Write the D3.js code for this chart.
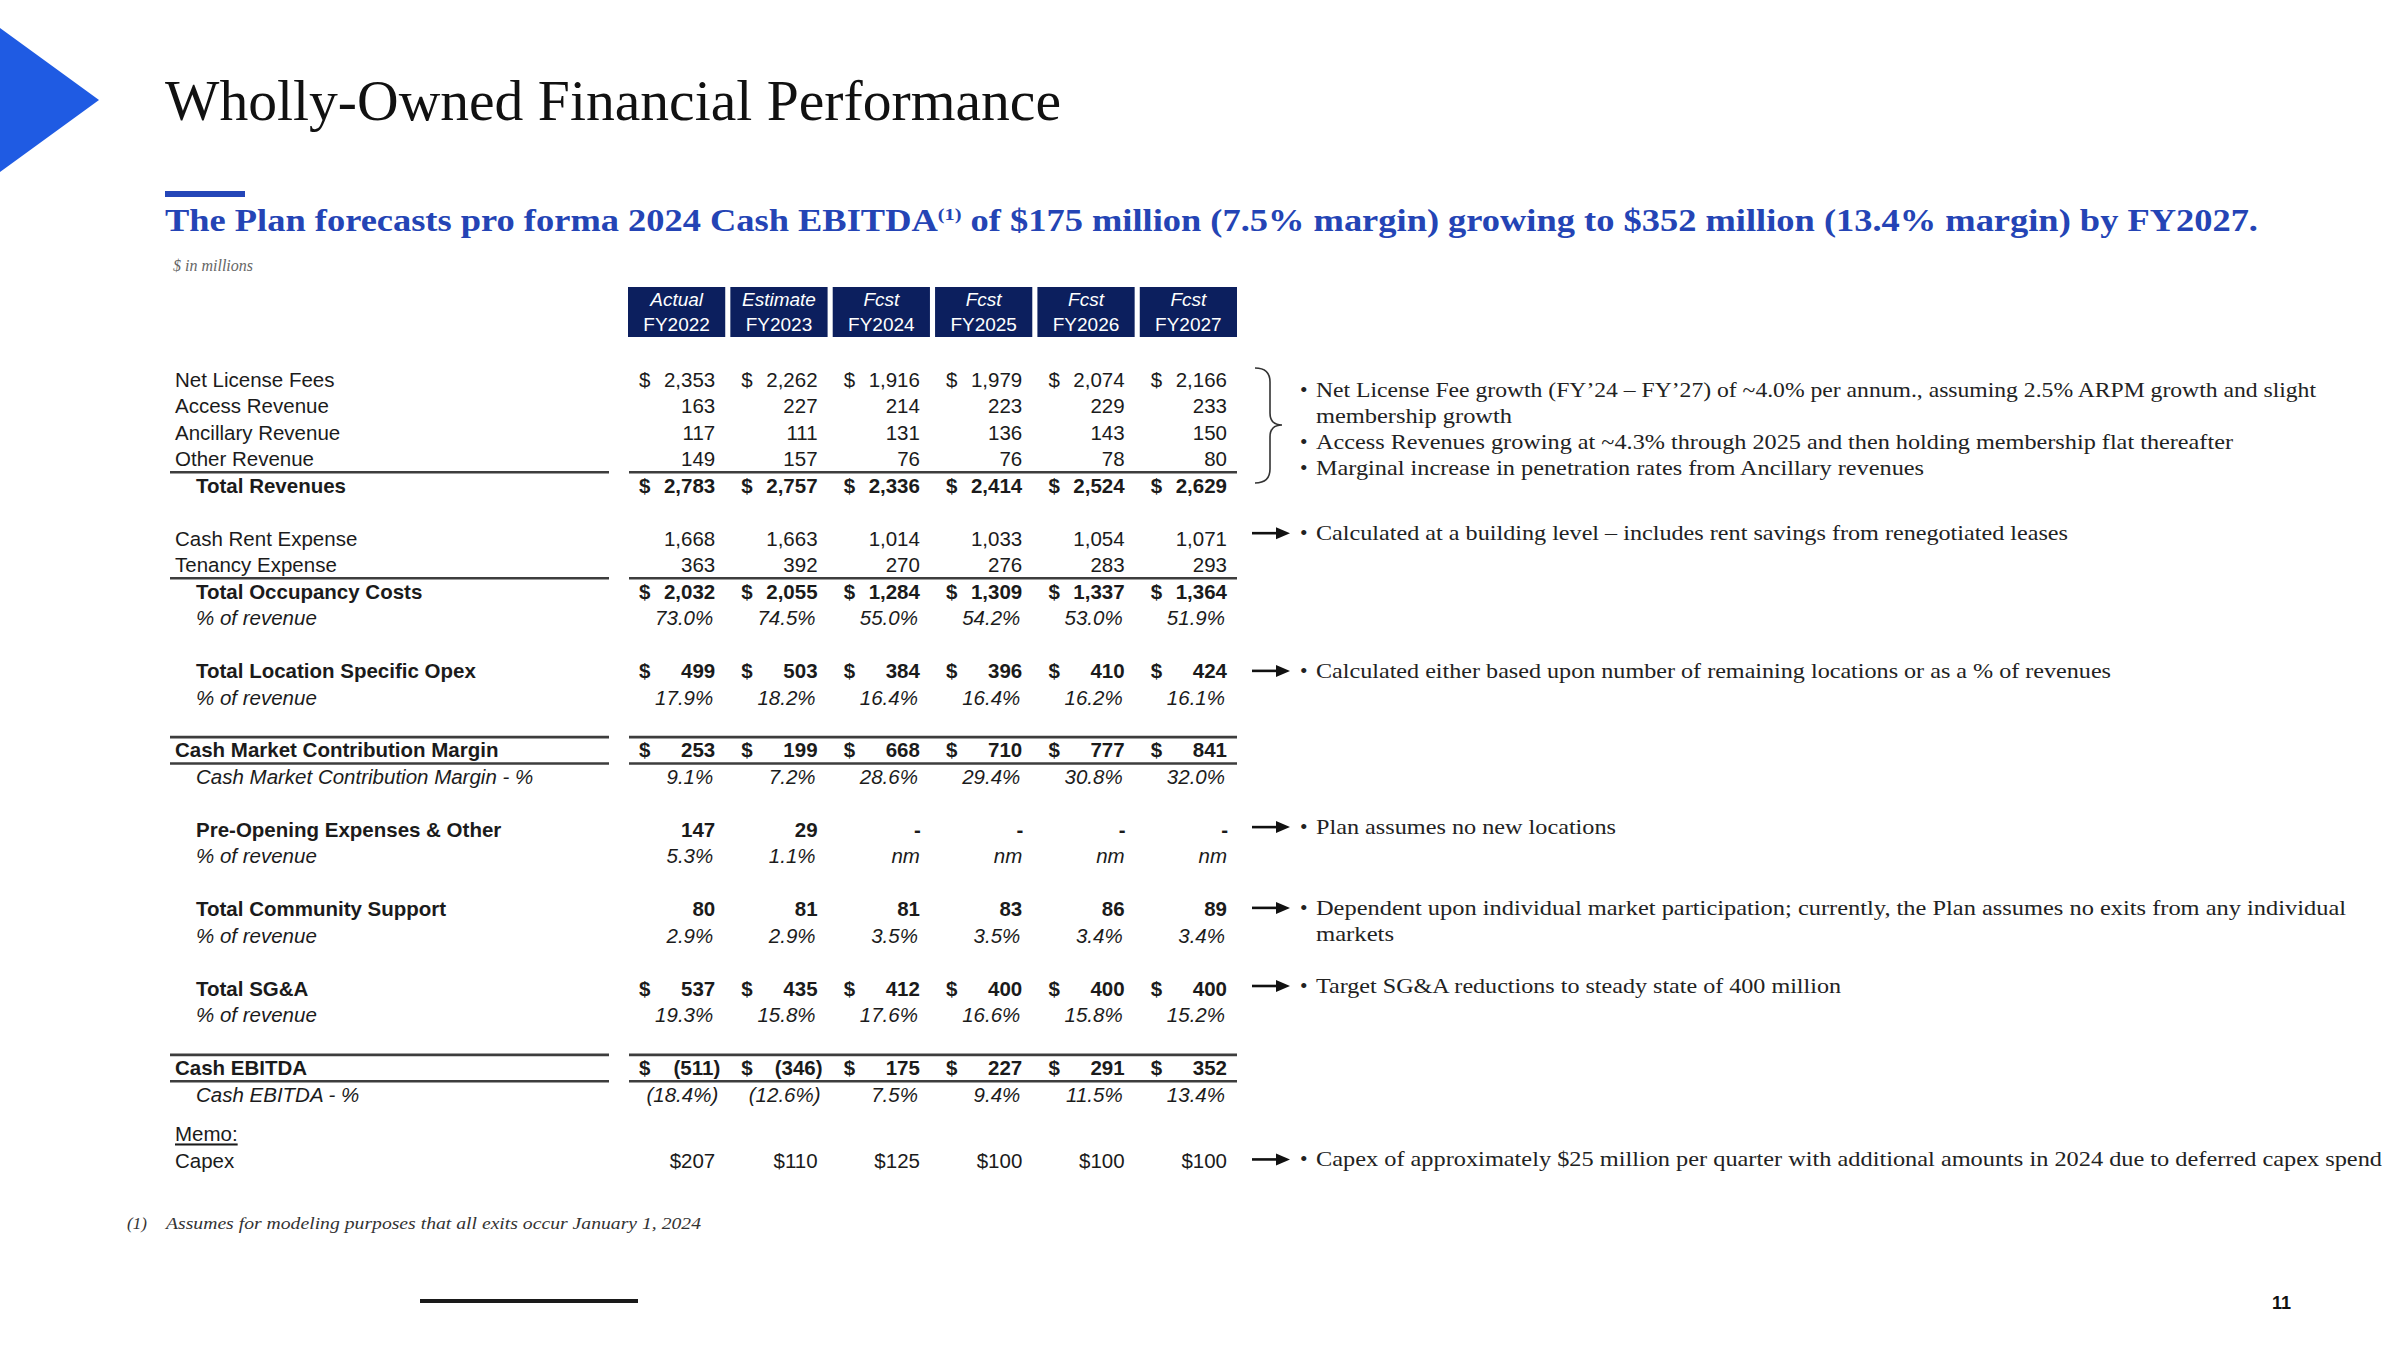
<!DOCTYPE html>
<html><head><meta charset="utf-8">
<script src="https://cdn.jsdelivr.net/npm/d3@7"></script>
<style>
html,body{margin:0;padding:0;background:#fff;}
svg{display:block;}
</style></head><body>
<svg id="chart" width="2400" height="1350"></svg>
<script>
// ---------------- DATA ----------------
const years = ["FY2022","FY2023","FY2024","FY2025","FY2026","FY2027"];
const periodTypes = ["Actual","Estimate","Fcst","Fcst","Fcst","Fcst"];

const netLicenseFees   = [2353, 2262, 1916, 1979, 2074, 2166];
const accessRevenue    = [163, 227, 214, 223, 229, 233];
const ancillaryRevenue = [117, 111, 131, 136, 143, 150];
const otherRevenue     = [149, 157, 76, 76, 78, 80];
const totalRevenues    = [2783, 2757, 2336, 2414, 2524, 2629];

const cashRentExpense  = [1668, 1663, 1014, 1033, 1054, 1071];
const tenancyExpense   = [363, 392, 270, 276, 283, 293];
const totalOccupancy   = [2032, 2055, 1284, 1309, 1337, 1364];
const occupancyPct     = [73.0, 74.5, 55.0, 54.2, 53.0, 51.9];

const locationOpex     = [499, 503, 384, 396, 410, 424];
const locationOpexPct  = [17.9, 18.2, 16.4, 16.4, 16.2, 16.1];

const contributionMargin    = [253, 199, 668, 710, 777, 841];
const contributionMarginPct = [9.1, 7.2, 28.6, 29.4, 30.8, 32.0];

const preOpening       = [147, 29, 0, 0, 0, 0];
const preOpeningPct    = [5.3, 1.1, null, null, null, null];

const communitySupport    = [80, 81, 81, 83, 86, 89];
const communitySupportPct = [2.9, 2.9, 3.5, 3.5, 3.4, 3.4];

const sga    = [537, 435, 412, 400, 400, 400];
const sgaPct = [19.3, 15.8, 17.6, 16.6, 15.8, 15.2];

const cashEbitda    = [-511, -346, 175, 227, 291, 352];
const cashEbitdaPct = [-18.4, -12.6, 7.5, 9.4, 11.5, 13.4];

const capex = [207, 110, 125, 100, 100, 100];

const braceNotes = [
  "Net License Fee growth (FY\u201924 \u2013 FY\u201927) of ~4.0% per annum., assuming 2.5% ARPM growth and slight",
  "membership growth",
  "Access Revenues growing at ~4.3% through 2025 and then holding membership flat thereafter",
  "Marginal increase in penetration rates from Ancillary revenues"
];
const arrowNotes = [
  ["Calculated at a building level \u2013 includes rent savings from renegotiated leases"],
  ["Calculated either based upon number of remaining locations or as a % of revenues"],
  ["Plan assumes no new locations"],
  ["Dependent upon individual market participation; currently, the Plan assumes no exits from any individual", "markets"],
  ["Target SG&A reductions to steady state of 400 million"],
  ["Capex of approximately $25 million per quarter with additional amounts in 2024 due to deferred capex spend"]
];

// ---------------- LAYOUT ----------------
const svg = d3.select("#chart");
const SANS = "'Liberation Sans', Arial, sans-serif";
const SERIF = "'Liberation Serif', 'Times New Roman', serif";
const INK = "#1b1b1b";

const x = d3.scaleBand().domain(years).range([628, 1237]).paddingInner(0.05).paddingOuter(0);
const bw = x.bandwidth();
const y = d3.scaleLinear().domain([0, 29.5]).range([379.6, 379.6 + 29.5 * 26.48]);

// decorative triangle
svg.append("path").attr("d", "M0,28 L99,100 L0,172 Z").attr("fill", "#1f5be3");

// title
svg.append("text").attr("x", 165).attr("y", 120)
  .attr("font-family", SERIF).attr("font-size", 57).attr("fill", "#111")
  .attr("textLength", 896).attr("lengthAdjust", "spacingAndGlyphs")
  .text("Wholly-Owned Financial Performance");

svg.append("rect").attr("x", 165).attr("y", 191).attr("width", 80).attr("height", 6).attr("fill", "#2446b8");

const sub = svg.append("text").attr("x", 165).attr("y", 231)
  .attr("font-family", SERIF).attr("font-size", 30.5).attr("font-weight", "bold").attr("fill", "#2444b5")
  .attr("textLength", 2093).attr("lengthAdjust", "spacingAndGlyphs");
sub.append("tspan").text("The Plan forecasts pro forma 2024 Cash EBITDA");
sub.append("tspan").attr("font-size", 17).attr("dy", -11).text("(1)");
sub.append("tspan").attr("dy", 11).text(" of $175 million (7.5% margin) growing to $352 million (13.4% margin) by FY2027.");

svg.append("text").attr("x", 173).attr("y", 271)
  .attr("font-family", SERIF).attr("font-style", "italic").attr("font-size", 16).attr("fill", "#666")
  .text("$ in millions");

// header boxes
const hdr = svg.append("g").selectAll("g").data(years).join("g");
hdr.append("rect").attr("x", d => x(d)).attr("y", 287).attr("width", bw).attr("height", 50).attr("fill", "#0c1f5e");
hdr.append("text").attr("x", d => x(d) + bw / 2).attr("y", 306)
  .attr("text-anchor", "middle").attr("font-family", SANS).attr("font-style", "italic")
  .attr("font-size", 19).attr("fill", "#fff").text((d, i) => periodTypes[i]);
hdr.append("text").attr("x", d => x(d) + bw / 2).attr("y", 331)
  .attr("text-anchor", "middle").attr("font-family", SANS)
  .attr("font-size", 19).attr("fill", "#fff").text(d => d);

// rows
const rows = [
  {label: "Net License Fees", values: netLicenseFees, kind: "num", dollar: true, slot: 0},
  {label: "Access Revenue", values: accessRevenue, kind: "num", slot: 1},
  {label: "Ancillary Revenue", values: ancillaryRevenue, kind: "num", slot: 2},
  {label: "Other Revenue", values: otherRevenue, kind: "num", slot: 3},
  {label: "Total Revenues", values: totalRevenues, kind: "num", dollar: true, bold: true, indent: true, slot: 4},
  {label: "Cash Rent Expense", values: cashRentExpense, kind: "num", slot: 6},
  {label: "Tenancy Expense", values: tenancyExpense, kind: "num", slot: 7},
  {label: "Total Occupancy Costs", values: totalOccupancy, kind: "num", dollar: true, bold: true, indent: true, slot: 8},
  {label: "% of revenue", values: occupancyPct, kind: "pct", italic: true, indent: true, slot: 9},
  {label: "Total Location Specific Opex", values: locationOpex, kind: "num", dollar: true, bold: true, indent: true, slot: 11},
  {label: "% of revenue", values: locationOpexPct, kind: "pct", italic: true, indent: true, slot: 12},
  {label: "Cash Market Contribution Margin", values: contributionMargin, kind: "num", dollar: true, bold: true, slot: 14},
  {label: "Cash Market Contribution Margin - %", values: contributionMarginPct, kind: "pct", italic: true, indent: true, slot: 15},
  {label: "Pre-Opening Expenses & Other", values: preOpening, kind: "num", bold: true, indent: true, slot: 17},
  {label: "% of revenue", values: preOpeningPct, kind: "pct", italic: true, indent: true, slot: 18},
  {label: "Total Community Support", values: communitySupport, kind: "num", bold: true, indent: true, slot: 20},
  {label: "% of revenue", values: communitySupportPct, kind: "pct", italic: true, indent: true, slot: 21},
  {label: "Total SG&A", values: sga, kind: "num", dollar: true, bold: true, indent: true, slot: 23},
  {label: "% of revenue", values: sgaPct, kind: "pct", italic: true, indent: true, slot: 24},
  {label: "Cash EBITDA", values: cashEbitda, kind: "num", dollar: true, bold: true, slot: 26},
  {label: "Cash EBITDA - %", values: cashEbitdaPct, kind: "pct", italic: true, indent: true, slot: 27},
  {label: "Memo:", values: null, underline: true, slot: 28.5},
  {label: "Capex", values: capex, kind: "capex", slot: 29.5}
];

const FS = 20.5;
const base = s => y(s) + FS * 0.35;
const fmtN = d3.format(",");
const fmtP = d3.format(".1f");

const rowG = svg.append("g").selectAll("g").data(rows).join("g");
rowG.append("text")
  .attr("x", d => d.indent ? 196 : 175).attr("y", d => base(d.slot))
  .attr("font-family", SANS).attr("font-size", FS).attr("fill", INK)
  .attr("font-weight", d => d.bold ? "bold" : "normal")
  .attr("font-style", d => d.italic ? "italic" : "normal")
  .attr("text-decoration", d => d.underline ? "underline" : null)
  .text(d => d.label);

rows.filter(r => r.values).forEach(r => {
  const g = svg.append("g").attr("font-family", SANS).attr("font-size", FS).attr("fill", INK)
    .attr("font-weight", r.bold ? "bold" : "normal").attr("font-style", r.italic ? "italic" : "normal");
  const cells = r.values.map((v, i) => ({v, yr: years[i]}));
  if (r.dollar) {
    g.selectAll("text.d").data(cells).join("text").attr("class", "d")
      .attr("x", d => x(d.yr) + 11).attr("y", base(r.slot)).text("$");
  }
  g.selectAll("text.v").data(cells).join("text").attr("class", "v")
    .attr("text-anchor", "end").attr("y", base(r.slot))
    .attr("x", d => {
      const right = x(d.yr) + bw - 10;
      if (r.kind === "num") return d.v < 0 ? right + 5 : (d.v === 0 ? right + 1 : right);
      if (r.kind === "pct") return d.v == null ? right : (d.v < 0 ? right + 3 : right - 2);
      return right;
    })
    .text(d => {
      if (r.kind === "num") return d.v === 0 ? "-" : (d.v < 0 ? "(" + fmtN(-d.v) + ")" : fmtN(d.v));
      if (r.kind === "pct") return d.v == null ? "nm" : (d.v < 0 ? "(" + fmtP(-d.v) + "%)" : fmtP(d.v) + "%");
      return "$" + fmtN(d.v);
    });
});

// rules
const ruleSlots = [3.5, 7.5, 13.5, 14.5, 25.5, 26.5];
const rules = svg.append("g").attr("stroke", "#3d3d3d").attr("stroke-width", 2.6);
ruleSlots.forEach(s => {
  rules.append("line").attr("x1", 170).attr("x2", 609).attr("y1", y(s)).attr("y2", y(s));
  rules.append("line").attr("x1", 629).attr("x2", 1237).attr("y1", y(s)).attr("y2", y(s));
});

// notes
const NFS = 21.5;
const noteG = svg.append("g").attr("font-family", SERIF).attr("font-size", NFS).attr("fill", "#222");
const noteEnds = {
  "Net License Fee": 2316, "membership growth": 1512, "Access Revenues": 2233, "Marginal": 1924,
  "Calculated at": 2068, "Calculated either": 2111, "Plan assumes": 1616,
  "Dependent": 2346, "markets": 1394, "Target": 1841, "Capex of": 2382
};
function endFor(t) { for (const k in noteEnds) if (t.startsWith(k)) return noteEnds[k]; return null; }
function noteLine(t, yy, bullet) {
  if (bullet) noteG.append("text").attr("x", 1300).attr("y", yy).text("\u2022");
  const e = endFor(t);
  const el = noteG.append("text").attr("x", 1316).attr("y", yy).text(t);
  if (e) el.attr("textLength", e - 1316).attr("lengthAdjust", "spacingAndGlyphs");
}
const LH = 26.2;
const braceBase = [0.4, 1.39, 2.37, 3.35];
braceNotes.forEach((t, i) => noteLine(t, y(braceBase[i]) + 7, i !== 1));

// brace
const by0 = 368, by1 = 483, bym = 425;
svg.append("path").attr("fill", "none").attr("stroke", "#333").attr("stroke-width", 1.6)
  .attr("d", `M1255,${by0} Q1270,${by0} 1270,${by0+14} L1270,${bym-12} Q1270,${bym} 1282,${bym} Q1270,${bym} 1270,${bym+12} L1270,${by1-14} Q1270,${by1} 1255,${by1}`);

const arrowSlots = [5.8, 11, 16.9, 19.95, 22.9, 29.45];
arrowNotes.forEach((lines, i) => {
  const yc = y(arrowSlots[i]);
  svg.append("line").attr("x1", 1252).attr("x2", 1279).attr("y1", yc).attr("y2", yc)
    .attr("stroke", "#111").attr("stroke-width", 2.6);
  svg.append("path").attr("d", `M1276,${yc-6} L1290,${yc} L1276,${yc+6} Z`).attr("fill", "#111");
  lines.forEach((t, j) => noteLine(t, yc + 7 + j * LH, j === 0));
});

// footnote
svg.append("text").attr("x", 127).attr("y", 1229)
  .attr("font-family", SERIF).attr("font-style", "italic").attr("font-size", 17).attr("fill", "#333").text("(1)");
svg.append("text").attr("x", 166).attr("y", 1229)
  .attr("font-family", SERIF).attr("font-style", "italic").attr("font-size", 17).attr("fill", "#333")
  .attr("textLength", 535).attr("lengthAdjust", "spacingAndGlyphs")
  .text("Assumes for modeling purposes that all exits occur January 1, 2024");

svg.append("rect").attr("x", 420).attr("y", 1299).attr("width", 218).attr("height", 4).attr("fill", "#1a1a1a");
svg.append("text").attr("x", 2272).attr("y", 1309)
  .attr("font-family", SANS).attr("font-weight", "bold").attr("font-size", 18).attr("fill", "#111").text("11");
</script>
</body></html>
